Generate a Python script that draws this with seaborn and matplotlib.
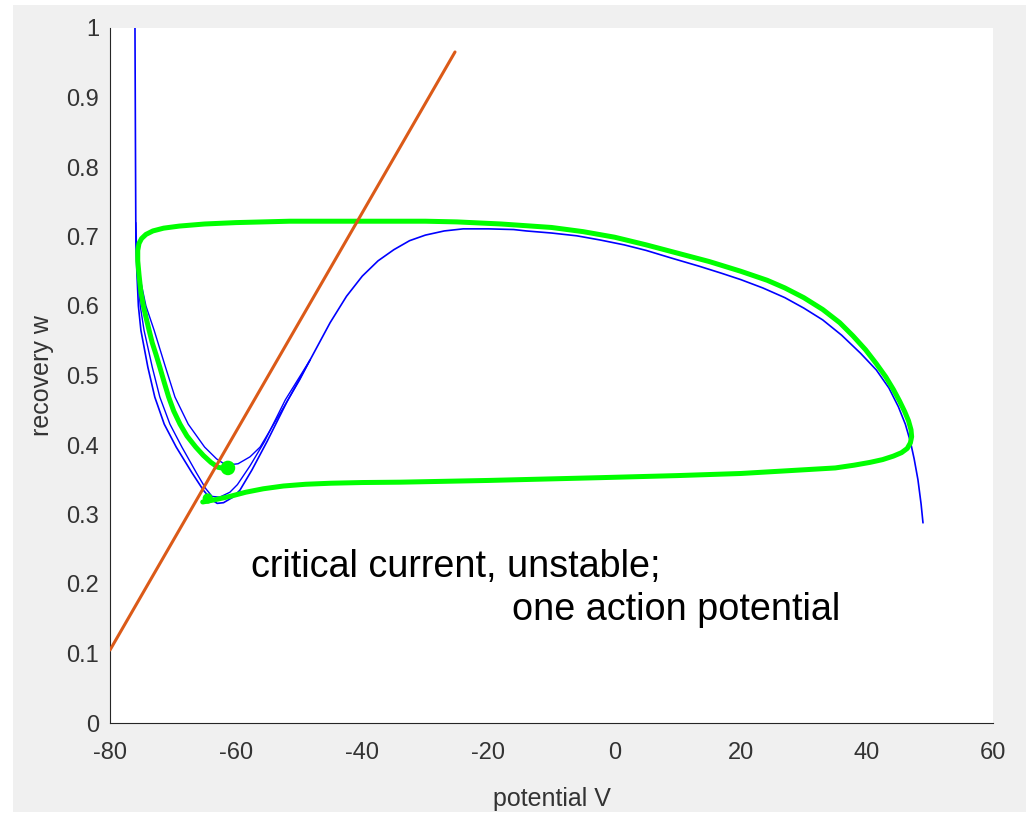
import numpy as np
import pandas as pd
import matplotlib
matplotlib.use("Agg")
import matplotlib.pyplot as plt
from matplotlib.patches import Rectangle
import seaborn as sns

# ---------------- data ----------------
# V-nullcline (outer / main branch)
null_main_V = [-76.04, -75.95, -75.9, -75.75, -75.5, -75.1, -74.0, -72.9, -71.4, -69.5, -67.0, -65.2,
               -64.0, -63.0, -62.0, -60.5, -59.4, -57.5, -55.1, -51.9, -48.3, -45.1, -42.5, -40.0,
               -37.5, -35.0, -32.5, -30.0, -27.0, -24.0, -20.0, -16.0, -14.0, -10.0, -6.0, -2.3, 1.5,
               5.0, 9.0, 13.5, 17.0, 20.0, 23.5, 27.0, 30.0, 33.0, 36.0, 39.0, 41.5, 43.5, 45.0,
               46.1, 46.9, 47.5, 48.1, 48.6, 48.9]
null_main_w = [1.0, 0.80, 0.70, 0.65, 0.60, 0.565, 0.512, 0.469, 0.43, 0.397, 0.36, 0.335,
               0.322, 0.316, 0.317, 0.325, 0.335, 0.364, 0.405, 0.463, 0.522, 0.576, 0.614, 0.643,
               0.665, 0.681, 0.694, 0.702, 0.708, 0.711, 0.711, 0.710, 0.708, 0.705, 0.701, 0.695, 0.688,
               0.680, 0.669, 0.657, 0.647, 0.638, 0.626, 0.612, 0.597, 0.580, 0.558, 0.532, 0.508, 0.482, 0.455,
               0.430, 0.405, 0.380, 0.350, 0.315, 0.288]
# second nullcline (slightly higher minimum)
null_mid_V = [-75.9, -75.7, -75.2, -74.6, -73.3, -72.1, -70.5, -68.6, -66.3, -64.8, -63.8, -62.6,
              -61.0, -59.8, -57.8, -55.5, -52.2, -48.3]
null_mid_w = [0.70, 0.65, 0.60, 0.565, 0.512, 0.469, 0.43, 0.397, 0.36, 0.337, 0.326, 0.325,
              0.332, 0.343, 0.37, 0.405, 0.465, 0.522]
# third nullcline (highest minimum)
null_up_V = [-75.9, -75.7, -75.0, -74.3, -73.0, -71.2, -69.7, -67.6, -65.0, -63.1, -61.6, -59.7,
             -57.8, -56.2, -53.0, -49.9, -48.3]
null_up_w = [0.72, 0.66, 0.63, 0.60, 0.565, 0.512, 0.469, 0.43, 0.397, 0.38, 0.371, 0.373,
             0.383, 0.397, 0.446, 0.494, 0.522]

# w-nullcline
wnull_V = [-80.0, -25.3]
wnull_w = [0.105, 0.9655]

# trajectory (one action potential)
traj_V = [-65.3, -63.5, -61.0, -58.5, -55.7, -52.5, -49.0, -45.0, -40.0, -34.0, -20.0, -2.3, 10.0,
          20.0, 29.4, 35.0, 38.0, 40.5, 42.5, 44.2, 45.5, 46.4, 46.9, 47.1, 47.0, 46.6, 46.0, 45.2,
          44.2, 43.0, 41.5, 39.8, 37.8, 35.7, 33.0, 30.0, 27.0, 24.2, 20.0, 15.0, 10.0, 5.0, 0.0,
          -5.0, -10.0, -18.0, -25.0, -30.0, -40.0, -51.5, -60.0, -65.0, -69.0, -71.5, -73.2, -74.3,
          -75.0, -75.4, -75.6, -75.6, -75.4, -75.1, -74.7, -74.3, -73.8, -73.3, -72.7, -72.1, -71.4,
          -70.7, -69.9, -68.9, -67.8, -66.4, -65.2, -64.0, -62.9, -61.8, -61.2]
traj_w = [0.318, 0.321, 0.326, 0.332, 0.337, 0.341, 0.3435, 0.345, 0.346, 0.3465, 0.349, 0.353, 0.356,
          0.359, 0.364, 0.367, 0.371, 0.375, 0.379, 0.384, 0.389, 0.395, 0.403, 0.412, 0.422, 0.435,
          0.448, 0.463, 0.480, 0.498, 0.517, 0.537, 0.557, 0.576, 0.595, 0.612, 0.626, 0.637, 0.650,
          0.664, 0.676, 0.688, 0.699, 0.707, 0.713, 0.718, 0.721, 0.722, 0.722, 0.722, 0.720, 0.718,
          0.715, 0.712, 0.708, 0.703, 0.697, 0.690, 0.680, 0.665, 0.645, 0.620, 0.600, 0.584, 0.565,
          0.547, 0.530, 0.512, 0.490, 0.469, 0.449, 0.430, 0.413, 0.397, 0.385, 0.375, 0.368, 0.366,
          0.367]
blob_V = [-64.5, -61.3]
blob_w = [0.323, 0.367]
blob_size = [55, 110]

x_ticks = [-80, -60, -40, -20, 0, 20, 40, 60]
y_ticks = [0, 0.1, 0.2, 0.3, 0.4, 0.5, 0.6, 0.7, 0.8, 0.9, 1]
y_ticklabels = ["0", "0.1", "0.2", "0.3", "0.4", "0.5", "0.6", "0.7", "0.8", "0.9", "1"]

# ---------------- plotting ----------------
sns.set_theme(style="white")
plt.rcParams["font.family"] = ["Liberation Sans", "DejaVu Sans"]

W, H = 1026, 814
fig = plt.figure(figsize=(W / 100, H / 100), dpi=100, facecolor="white")
fig.patches.append(Rectangle((13 / W, 2 / H), (W - 13) / W, (H - 7) / H,
                             transform=fig.transFigure, facecolor="#f0f0f0",
                             edgecolor="none", zorder=-10))
ax = fig.add_axes([110 / W, 1 - 723 / H, (993 - 110) / W, (723 - 28) / H])
ax.set_facecolor("white")

blue = "#0000ff"
green = "#00ff00"
orange = "#db5a18"

sns.lineplot(x=null_main_V, y=null_main_w, sort=False, estimator=None, color=blue, lw=1.2, ax=ax)
sns.lineplot(x=null_mid_V, y=null_mid_w, sort=False, estimator=None, color=blue, lw=1.0, ax=ax)
sns.lineplot(x=null_up_V, y=null_up_w, sort=False, estimator=None, color=blue, lw=1.0, ax=ax)
sns.lineplot(x=traj_V, y=traj_w, sort=False, estimator=None, color=green, lw=3.6, ax=ax,
             solid_capstyle="round", solid_joinstyle="round")
ax.scatter(blob_V, blob_w, s=blob_size, color=green, edgecolors="none", zorder=5)
sns.lineplot(x=wnull_V, y=wnull_w, sort=False, estimator=None, color=orange, lw=2.2, ax=ax, zorder=6)

ax.text(-57.6, 0.210, "critical current, unstable;", fontsize=27.2, color="black", va="baseline", ha="left")
ax.text(-16.3, 0.148, "one action potential", fontsize=27.2, color="black", va="baseline", ha="left")

ax.set_xlim(-80, 60)
ax.set_ylim(0, 1)
ax.set_xticks(x_ticks)
ax.set_xticklabels([str(t) for t in x_ticks])
ax.set_yticks(y_ticks)
ax.set_yticklabels(y_ticklabels)
ax.tick_params(direction="in", length=7.2, width=0.8, colors="#262626", labelsize=17,
               labelcolor="#333333")
ax.tick_params(axis="x", pad=14)
ax.tick_params(axis="y", pad=8)
ax.spines["top"].set_visible(False)
ax.spines["right"].set_visible(False)
for s in ["left", "bottom"]:
    ax.spines[s].set_color("#262626")
    ax.spines[s].set_linewidth(0.8)

ax.set_xlabel("potential V", fontsize=18, color="#333333", labelpad=16)
ax.set_ylabel("recovery w", fontsize=18, color="#333333", labelpad=9)

fig.savefig("out.png", dpi=100, facecolor=fig.get_facecolor())
